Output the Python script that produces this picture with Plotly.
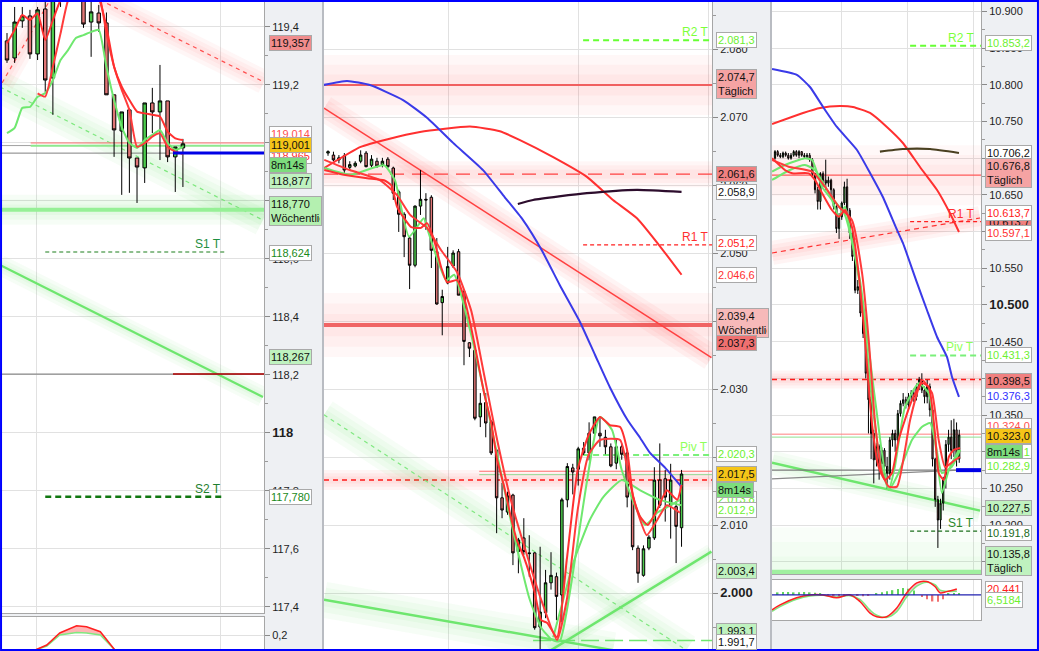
import plotly.graph_objects as go

W, H = 1039, 651
FONT = "Liberation Sans"

# ======================= DATA =======================
# ---------------- Panel 1 (119,xxx) ----------------
p1_x = list(range(24))
p1_open = [119.352, 119.293, 119.421, 119.438, 119.307, 119.462, 119.224, 119.600, 119.550, 119.620,
           119.530, 119.417, 119.448, 119.414, 119.166, 119.041, 119.114, 118.948, 118.914, 119.138,
           119.107, 119.145, 118.952, 118.983]
p1_high = [119.379, 119.469, 119.469, 119.459, 119.469, 119.520, 119.580, 119.620, 119.660, 119.650,
           119.560, 119.493, 119.476, 119.450, 119.166, 119.107, 119.120, 118.948, 119.138, 119.190,
           119.269, 119.145, 118.986, 119.014]
p1_low = [119.276, 119.276, 119.397, 119.290, 119.286, 119.176, 119.097, 119.469, 119.520, 119.500,
          119.397, 119.297, 119.383, 119.166, 118.952, 118.821, 118.828, 118.793, 118.862, 119.034,
          118.941, 118.934, 118.831, 118.848]
p1_close = [119.286, 119.417, 119.438, 119.307, 119.459, 119.217, 119.540, 119.550, 119.620, 119.530,
            119.410, 119.452, 119.414, 119.166, 119.045, 119.107, 118.948, 118.917, 119.138, 119.107,
            119.145, 118.952, 118.986, 118.997]
p1_ma_fast = [119.344, 119.390, 119.441, 119.424, 119.447, 119.355, 119.424, 119.493, 119.530, 119.550,
              119.540, 119.530, 119.500, 119.401, 119.263, 119.194, 119.148, 119.108, 119.102, 119.097,
              119.091, 119.039, 119.016, 119.010]
p1_ma_slow = [None, None, None, None, 119.171, 119.160, 119.263, 119.378, 119.493, 119.528,
              119.539, 119.539, 119.516, 119.378, 119.263, 119.183, 119.114, 118.987, 118.999, 119.022,
              119.033, 118.987, 118.970, 118.962]
p1_ma_green = [119.034, 119.052, 119.121, 119.124, 119.159, 119.172, 119.217, 119.286, 119.321, 119.362,
               119.372, 119.383, 119.390, 119.262, 119.148, 119.055, 119.000, 118.983, 119.010, 119.028,
               119.045, 119.000, 118.976, 118.986]
p1_osc_x = [3.7, 5.2, 6.9, 9.1, 10.4, 12.2, 14.1]
p1_osc_red = [0.05, 0.10, 0.22, 0.293, 0.283, 0.233, 0.05]
p1_osc_green = [0.05, 0.09, 0.20, 0.225, 0.22, 0.20, 0.05]
p1_tick_vals = [117.4, 117.6, 117.8, 118.0, 118.2, 118.4, 118.6, 118.8, 119.0, 119.2, 119.4]
p1_tick_text = ["117,4", "117,6", "117,8", "<span style='font-size:13px'><b>118</b></span>", "118,2",
                "118,4", "118,6", "118,8", "<span style='font-size:13px'><b>119</b></span>", "119,2", "119,4"]
p1_vgrid = [3.92, 27.97]
p1_weekly = 118.770
p1_s1 = 118.624
p1_s2 = 117.780
p1_piv_span = [5.0, 28.5]
p1_level_low = 118.203
p1_level_blue = 118.965
p1_level_gray = 118.991
p1_level_red = 119.000
p1_level_green = 118.990
p1_split_idx = 21.7
p1_thin_start = 3.1
p1_trend_red_a = ([-0.65, 5.62], [119.207, 119.493])
p1_trend_red_b = ([12.16, 33.6], [119.493, 119.210])
p1_trend_green_dash = ([-0.915, 33.46], [119.193, 118.734])
p1_trend_green = ([-0.915, 33.46], [118.579, 118.124])

# ---------------- Panel 2 (2.0xx) ----------------
p2_x = list(range(66))
p2_open = [2064.7, 2064.4, 2063.7, 2064.3, 2062.6, 2062.8, 2063.5, 2064.7, 2062.9, 2063.5,
           2063.0, 2063.8, 2062.5, 2059.0, 2055.7, 2052.2, 2048.2, 2056.9, 2057.9, 2058.2,
           2050.2, 2042.7, 2045.6, 2048.1, 2050.2, 2044.3, 2036.8, 2035.7, 2025.9, 2028.0,
           2025.2, 2021.0, 2014.0, 2011.9, 2014.4, 2006.1, 2008.1, 2005.9, 2005.9, 1995.0,
           1997.1, 2001.5, 2002.4, 1999.7, 2013.7, 2018.4, 2018.2, 2021.3, 2020.6, 2023.5,
           2023.5, 2022.9, 2021.5, 2019.1, 2021.5, 2020.6, 2014.0, 2006.6, 2002.6, 2006.6,
           2008.1, 2016.6, 2016.8, 2012.9, 2012.7, 2009.6]
p2_high = [2065.1, 2064.9, 2064.4, 2064.7, 2063.5, 2063.5, 2065.1, 2065.0, 2064.4, 2064.0,
           2064.0, 2064.1, 2062.7, 2059.3, 2056.0, 2052.4, 2057.0, 2062.2, 2058.8, 2058.5,
           2052.2, 2044.6, 2050.9, 2050.4, 2050.6, 2044.6, 2036.9, 2036.0, 2029.4, 2029.4,
           2025.4, 2021.2, 2016.2, 2014.9, 2014.6, 2008.1, 2011.0, 2008.5, 2006.0, 2006.8,
           2003.4, 2006.0, 2003.0, 2014.0, 2019.1, 2019.0, 2021.5, 2022.2, 2025.1, 2025.9,
           2025.9, 2024.0, 2022.0, 2022.8, 2022.0, 2021.2, 2014.4, 2007.0, 2007.0, 2008.5,
           2018.5, 2022.0, 2018.1, 2019.0, 2013.5, 2018.1]
p2_low = [2064.3, 2063.5, 2063.2, 2061.8, 2062.2, 2062.6, 2063.2, 2062.6, 2062.6, 2062.5,
          2062.6, 2062.5, 2057.8, 2053.1, 2049.4, 2044.7, 2047.9, 2055.6, 2053.4, 2047.8,
          2042.4, 2037.9, 2045.4, 2047.8, 2043.8, 2033.5, 2034.7, 2025.4, 2024.4, 2022.9,
          2020.3, 2008.8, 2011.0, 2011.5, 2004.1, 2002.9, 2005.6, 2002.4, 1994.6, 1991.6,
          1996.3, 2000.5, 1996.0, 1995.7, 2012.6, 2014.5, 2015.8, 2020.3, 2019.5, 2022.5,
          2021.5, 2020.4, 2018.5, 2018.2, 2019.6, 2012.6, 2006.3, 2001.5, 2002.4, 2006.3,
          2007.8, 2012.5, 2010.5, 2008.0, 2004.4, 2006.8]
p2_close = [2064.9, 2063.7, 2064.0, 2062.2, 2063.0, 2063.2, 2064.4, 2062.7, 2063.8, 2062.8,
            2063.5, 2062.7, 2058.8, 2055.7, 2052.4, 2048.2, 2056.9, 2057.9, 2057.8, 2050.4,
            2042.5, 2043.6, 2048.0, 2050.0, 2043.8, 2037.0, 2036.0, 2025.7, 2027.9, 2025.0,
            2020.6, 2014.0, 2012.2, 2014.3, 2005.9, 2007.8, 2006.1, 2005.8, 1994.9, 1997.2,
            2001.5, 2002.6, 1999.5, 2013.7, 2018.6, 2017.8, 2021.2, 2020.6, 2023.5, 2025.9,
            2023.1, 2021.5, 2018.7, 2021.5, 2020.4, 2014.1, 2006.8, 2002.9, 2006.5, 2008.2,
            2016.6, 2012.9, 2014.1, 2016.6, 2009.8, 2017.5]
p2_red_fast_x = [-0.7, 2.9, 7.2, 10.3, 11.6, 12.7, 14.0, 15.3, 17.1, 18.2, 19.5, 20.8, 21.9, 23.7, 25.0,
                 26.3, 27.4, 28.7, 30.0, 31.1, 32.4, 33.6, 34.7, 36.0, 37.9, 39.2, 40.3, 42.1, 43.9,
                 45.9, 47.9, 50.0, 51.8, 53.7, 55.0, 56.1, 57.4, 58.8, 60.5, 62.3, 64.2, 65.0]
p2_red_fast_y = [2062.2, 2061.5, 2061.0, 2060.7, 2060.0, 2056.8, 2055.1, 2053.8, 2053.7, 2054.4, 2051.9,
                 2047.9, 2045.7, 2046.0, 2043.5, 2039.1, 2034.7, 2029.4, 2025.0, 2019.6, 2015.6, 2011.2,
                 2007.8, 2005.3, 2000.4, 1996.0, 1995.6, 1993.5, 2004.9, 2018.1, 2023.2, 2025.9, 2024.7,
                 2024.4, 2021.0, 2014.1, 2011.2, 2010.0, 2012.2, 2015.1, 2013.7, 2015.9]
p2_red_slow_x = [-0.7, 4.0, 9.6, 12.7, 15.1, 18.2, 20.8, 23.7, 26.3, 28.7, 31.1, 33.6, 36.0, 39.2, 42.1,
                 43.9, 45.9, 47.9, 50.0, 53.7, 55.5, 56.8, 58.6, 60.5, 62.3, 64.7]
p2_red_slow_y = [2063.7, 2062.2, 2060.7, 2058.5, 2055.6, 2053.7, 2050.4, 2047.2, 2041.6, 2032.1, 2022.5,
                 2013.7, 2007.1, 1999.0, 1993.1, 1999.0, 2012.2, 2020.3, 2022.5, 2022.5, 2016.2, 2012.2,
                 2008.5, 2010.7, 2012.9, 2011.8]
p2_green_fast_x = [-0.7, 4.2, 10.3, 12.3, 14.9, 17.6, 18.2, 21.7, 23.2, 26.1, 29.8, 33.6, 37.1, 39.2, 41.2,
                   42.6, 50.0, 52.2, 54.0, 56.4, 58.3, 59.4, 60.5, 62.3, 64.7]
p2_green_fast_y = [2062.5, 2061.5, 2062.9, 2060.7, 2052.4, 2055.1, 2053.7, 2046.0, 2046.8, 2038.7, 2025.4,
                   2010.7, 1999.0, 1994.9, 1993.1, 1992.9, 2025.9, 2024.0, 2018.1, 2012.9, 2010.0, 2010.7,
                   2011.8, 2012.6, 2013.7]
p2_green_slow_x = [41.4, 42.6, 45.3, 48.1, 50.6, 54.0, 57.4, 61.0, 65.0]
p2_green_slow_y = [1993.5, 1997.1, 2004.9, 2010.7, 2014.1, 2016.6, 2015.1, 2013.7, 2012.9]
p2_blue_x = [-0.9, 3.5, 7.7, 13.8, 18.2, 23.0, 28.5, 32.5, 35.8, 39.3, 42.6, 46.3, 49.1, 51.8, 55.1,
             57.4, 59.2, 62.0, 65.0]
p2_blue_y = [2074.7, 2075.3, 2074.7, 2072.5, 2069.9, 2066.2, 2062.2, 2058.2, 2054.9, 2050.4, 2045.3,
             2039.9, 2035.0, 2030.3, 2025.4, 2022.8, 2020.6, 2018.4, 2015.6]
p2_dome_x = [-0.9, 6.0, 10.8, 16.9, 26.1, 31.6, 35.3, 41.4, 47.6, 52.4, 56.8, 61.6, 65.0]
p2_dome_y = [2062.4, 2065.6, 2066.7, 2067.8, 2068.6, 2067.9, 2066.6, 2064.1, 2061.2, 2057.8, 2055.1,
             2050.4, 2046.8]
p2_purple_x = [34.9, 37.7, 47.6, 56.8, 65.0]
p2_purple_y = [2057.2, 2057.8, 2058.8, 2059.3, 2059.0]
p2_tick_vals = [2000, 2010, 2020, 2030, 2040, 2050, 2060, 2070, 2080]
p2_tick_text = ["<span style='font-size:13px'><b>2.000</b></span>", "2.010", "2.020", "2.030", "2.040",
                "2.050", "2.060", "2.070", "2.080"]
p2_vgrid = [22.06, 46.14, 70.0]
p2_r2, p2_r1, p2_piv = 2081.3, 2051.2, 2020.3
p2_piv_start = 46.9
p2_daily = 2074.7
p2_daily_dash = 2061.6
p2_weekly = 2039.4
p2_red_dash = 2016.6
p2_thin_red = 2017.9
p2_thin_green = 2017.4
p2_thin_start = 27.8
p2_green_long = 1993.0
p2_green_long_start = 37.7
p2_trend_red = ([-0.74, 70.5], [2071.3, 2034.6])
p2_trend_green_dash = ([-0.74, 65.9], [2026.2, 1991.6])
p2_trend_green_down = ([-0.74, 52.4], [1999.0, 1991.6])
p2_trend_green_up = ([40.8, 70.5], [1991.5, 2006.1])

# ---------------- Panel 3 (10.xxx) ----------------
p3_x = list(range(70))
p3_open = [10700, 10709, 10704, 10702, 10707, 10704, 10700, 10704, 10709, 10704,
           10709, 10704, 10702, 10704, 10698, 10679, 10657, 10641, 10679, 10670,
           10666, 10670, 10657, 10634, 10604, 10620, 10639, 10661, 10629, 10598,
           10566, 10520, 10525, 10489, 10461, 10407, 10371, 10325, 10289, 10307,
           10284, 10302, 10280, 10271, 10316, 10325, 10316, 10352, 10366, 10371,
           10364, 10375, 10380, 10375, 10389, 10398, 10384, 10375, 10389, 10357,
           10290, 10235, 10207, 10230, 10262, 10310, 10320, 10302, 10330, 10290]
p3_high = [10711, 10711, 10707, 10709, 10709, 10707, 10707, 10711, 10711, 10711,
           10709, 10707, 10707, 10707, 10700, 10680, 10661, 10681, 10682, 10698,
           10675, 10672, 10659, 10636, 10625, 10641, 10668, 10672, 10632, 10600,
           10570, 10534, 10528, 10495, 10465, 10410, 10375, 10330, 10312, 10310,
           10306, 10305, 10293, 10320, 10330, 10330, 10357, 10370, 10380, 10375,
           10380, 10384, 10386, 10393, 10402, 10407, 10389, 10398, 10393, 10361,
           10292, 10240, 10236, 10266, 10316, 10330, 10343, 10345, 10340, 10330]
p3_low = [10698, 10702, 10700, 10700, 10702, 10698, 10698, 10702, 10702, 10700,
          10702, 10700, 10700, 10695, 10675, 10652, 10630, 10630, 10661, 10657,
          10661, 10650, 10630, 10598, 10590, 10616, 10636, 10625, 10590, 10560,
          10516, 10515, 10484, 10455, 10400, 10325, 10290, 10257, 10280, 10262,
          10275, 10266, 10250, 10262, 10307, 10300, 10312, 10348, 10362, 10359,
          10361, 10370, 10368, 10370, 10384, 10380, 10366, 10366, 10348, 10280,
          10225, 10169, 10195, 10220, 10250, 10300, 10290, 10293, 10280, 10285]
p3_close = [10709, 10704, 10702, 10707, 10704, 10700, 10704, 10709, 10704, 10709,
            10704, 10702, 10704, 10698, 10679, 10657, 10641, 10679, 10670, 10666,
            10670, 10657, 10634, 10604, 10620, 10639, 10661, 10629, 10598, 10566,
            10520, 10525, 10489, 10461, 10407, 10371, 10325, 10289, 10307, 10284,
            10302, 10280, 10271, 10316, 10325, 10316, 10352, 10366, 10371, 10364,
            10375, 10380, 10375, 10389, 10398, 10384, 10375, 10389, 10357, 10290,
            10235, 10207, 10230, 10262, 10310, 10320, 10302, 10330, 10290, 10323]
p3_red_fast_x = [-1.1, 3.7, 6.4, 12.6, 15.0, 17.6, 21.3, 23.9, 26.2, 28.8, 31.3, 33.7, 36.3, 38.8, 41.2,
                 43.8, 46.3, 51.3, 55.1, 57.6, 59.9, 61.3, 63.2, 65.1, 66.9, 69.3]
p3_red_fast_y = [10699.9, 10683.9, 10679.4, 10679.4, 10670.3, 10652.6, 10629.4, 10620.3, 10629.4, 10606.7,
                 10543.6, 10452.3, 10339.2, 10279.7, 10261.6, 10271.1, 10316.1, 10370.6, 10393.7, 10388.3,
                 10325.6, 10271.1, 10261.6, 10292.9, 10302.5, 10305.2]
p3_red_slow_x = [-1.1, 5.1, 13.9, 18.7, 23.9, 28.8, 32.6, 35.1, 37.5, 40.1, 42.6, 45.7, 48.7, 50.6, 55.1,
                 58.8, 61.3, 63.7, 67.4, 69.3]
p3_red_slow_y = [10697.5, 10688.4, 10681.6, 10661.2, 10633.9, 10615.8, 10543.6, 10452.3, 10339.2, 10271.1,
                 10252.5, 10252.5, 10302.5, 10343.3, 10397.8, 10380.1, 10316.1, 10279.3, 10288.8, 10292.9]
p3_green_fast_x = [-1.1, 3.7, 8.9, 11.2, 13.9, 17.6, 21.3, 23.9, 26.2, 28.8, 32.6, 36.3, 39.3, 42.6, 44.9,
                   48.7, 53.8, 57.6, 59.9, 62.5, 65.1, 68.8]
p3_green_fast_y = [10681.6, 10690.7, 10697.5, 10699.9, 10697.5, 10661.2, 10643.1, 10620.3, 10633.9, 10588.6,
                   10506.8, 10370.6, 10288.8, 10248.0, 10279.7, 10361.4, 10393.3, 10379.7, 10316.1, 10243.9,
                   10275.2, 10302.5]
p3_green_slow_x = [-1.1, 5.6, 11.2, 15.0, 20.6, 26.2, 31.8, 37.5, 42.6, 46.3, 51.3, 55.1, 58.1, 59.9, 62.5,
                   66.3, 69.3]
p3_green_slow_y = [10670.3, 10683.9, 10690.7, 10683.9, 10649.9, 10622.6, 10534.1, 10370.6, 10248.0, 10271.1,
                   10316.1, 10334.2, 10339.2, 10316.1, 10271.1, 10279.7, 10302.5]
p3_blue_x = [-1.1, 8.2, 13.1, 18.0, 23.2, 30.7, 35.6, 40.4, 45.7, 47.9, 53.2, 56.9, 60.7, 64.4, 66.3, 68.9]
p3_blue_y = [10821.5, 10813.4, 10797.0, 10769.8, 10742.5, 10711.2, 10679.8, 10647.1, 10602.2, 10584.5,
             10530.0, 10493.2, 10456.4, 10429.2, 10401.9, 10374.7]
p3_dome_x = [-1.1, 10.5, 16.9, 24.3, 29.2, 35.6, 41.9, 47.9, 54.3, 60.7, 65.5, 68.9]
p3_dome_y = [10746.6, 10761.6, 10768.4, 10771.1, 10769.8, 10761.6, 10742.5, 10720.7, 10688.0, 10656.7,
             10625.3, 10599.5]
p3_olive_x = [39.3, 47.9, 58.1, 68.9]
p3_olive_y = [10708.9, 10712.5, 10712.5, 10707.1]
p3_macd_x = [-1.1, 1.9, 8.1, 13.1, 18.0, 23.1, 28.1, 31.8, 35.6, 38.1, 41.8, 45.6, 49.3, 53.1, 56.8, 59.9,
             61.8, 64.3, 68.1]
p3_macd_red = [-41, -27.5, -8, 0, 0, -8, 0, -18, -50, -60, -60, -36, 5.5, 33, 36.6, 23, 5.5, 9, 16.5]
p3_macd_green = [-45, -32, -12, -3, -1, -6, -2, -12, -42, -56, -62, -46, -6, 24, 35, 28, 13, 10, 10]
p3_hist_x = [1, 3, 5, 7, 9, 11, 13, 15, 17, 20, 22, 24, 26, 28, 31, 33, 35, 38, 40, 42, 44, 46, 48, 50, 52,
             55, 57, 59, 61, 63, 65, 67, 69]
p3_hist_v = [7, 8, 8, 7, 7, 8, 7, 6, 5, -3, -4, -5, -4, -3, -2, -4, -2, 4, 7, 10, 13, 16, 19, 17, 12,
             -6, -12, -18, -19, -12, 3, 4, 5]
p3_tick_vals = list(range(10150, 10901, 50))
p3_tick_text = ["10.150", "10.200", "10.250", "10.300", "10.350", "10.400", "10.450",
                "<span style='font-size:13px'><b>10.500</b></span>", "10.550", "10.600", "10.650", "10.700",
                "10.750", "10.800", "10.850", "10.900"]
p3_vgrid = [25.0, 49.7, 74.2]
p3_r2, p3_r1, p3_piv, p3_s1 = 10853.2, 10613.7, 10431.3, 10191.8
p3_piv_start = 50.6
p3_daily = 10676.8
p3_red_dash = 10398.5
p3_thin_red = 10324.0
p3_thin_green = 10320.0
p3_gray = 10275.0
p3_blue_start = 67.8
p3_daily_green = 10135.8
p3_trend_red = ([-1.12, 76.8], [10570.8, 10618.5])
p3_trend_green = ([-1.12, 76.8], [10285.1, 10219.8])
p3_trend_gray = ([-1.12, 68.7], [10263.0, 10275.0])

# ======================= LAYOUT CONFIG =======================
P1_XR = [-0.915, 33.6]
P1_YR = [117.379, 119.493]
P2_XR = [-0.74, 70.6]
P2_YR = [1991.47, 2087.21]
P3_XR = [-1.12, 77.15]
P3_YR = [10133.5, 10915.5]

AX = {"p1": ("x", "y"), "p1s": ("x2", "y2"), "p2": ("x3", "y3"),
      "p3": ("x4", "y4"), "p3m": ("x5", "y5"), "p3b": ("x6", "y6")}
RED_G = "255,70,70"
GRN_G = "80,225,80"

fig = go.Figure()
shapes = []
annotations = []


def seg(ax, xs, ys, color, width=1.5, dash=None, glow=None, half=12, alpha=0.05, layer="between"):
    xr, yr = AX[ax]
    if glow:
        for w in (2 * half, 1.35 * half, 0.7 * half):
            shapes.append(dict(type="line", xref=xr, yref=yr, x0=xs[0], y0=ys[0], x1=xs[1], y1=ys[1],
                               layer=layer, line=dict(color=f"rgba({glow},{alpha})", width=w)))
    shapes.append(dict(type="line", xref=xr, yref=yr, x0=xs[0], y0=ys[0], x1=xs[1], y1=ys[1],
                       layer=layer, line=dict(color=color, width=width, dash=dash)))


def hline(ax, level, span, color, width=1.5, dash=None, glow=None, half=12, alpha=0.05, layer="between"):
    seg(ax, span, [level, level], color, width, dash, glow, half, alpha, layer)


def ma(ax, xs, ys, color, width=2):
    xr, yr = AX[ax]
    fig.add_trace(go.Scatter(x=xs, y=ys, xaxis=xr, yaxis=yr, mode="lines",
                             line=dict(color=color, width=width, shape="spline", smoothing=0.5),
                             hoverinfo="skip", showlegend=False))


def candles(ax, x, o, h, l, c):
    xr, yr = AX[ax]
    fig.add_trace(go.Candlestick(x=x, open=o, high=h, low=l, close=c, xaxis=xr, yaxis=yr,
                                 increasing=dict(line=dict(color="#000000", width=1), fillcolor="#4ccb4c"),
                                 decreasing=dict(line=dict(color="#000000", width=1), fillcolor="#e07676"),
                                 whiskerwidth=0, showlegend=False, hoverinfo="skip"))


# ---------- Panel 1 lines ----------
seg("p1", *p1_trend_red_a, "#ff5050", 1.2, "4px,4px", RED_G, 12)
seg("p1", *p1_trend_red_b, "#ff5050", 1.2, "4px,4px", RED_G, 12)
seg("p1", *p1_trend_green_dash, "#7ee87e", 1.2, "4px,4px", GRN_G, 16)
seg("p1", *p1_trend_green, "#6ee66e", 2.2, None, GRN_G, 10)
hline("p1", p1_weekly, P1_XR, "#96f096", 4, None, GRN_G, 15)
hline("p1", p1_s1, p1_piv_span, "#1d7f1d", 1.2, "4px,3px")
hline("p1", p1_s2, p1_piv_span, "#117711", 2.5, "6px,4px")
hline("p1", p1_level_low, P1_XR, "#8a8a8a", 1.2)
hline("p1", p1_level_low, [p1_split_idx, P1_XR[1]], "#b00000", 1.5)
hline("p1", p1_level_gray, P1_XR, "#a0a0a0", 1)
hline("p1", p1_level_blue, P1_XR, "#808080", 1)
hline("p1", p1_level_red, [p1_thin_start, P1_XR[1]], "#ff7070", 1)
hline("p1", p1_level_green, [p1_thin_start, P1_XR[1]], "#8ee88e", 2)
hline("p1", p1_level_blue, [p1_split_idx, P1_XR[1]], "#0000e6", 3, layer="above")

# ---------- Panel 2 lines ----------
hline("p2", p2_daily, P2_XR, "#f06060", 2, None, RED_G, 30, 0.045)
hline("p2", p2_daily_dash, P2_XR, "#ff4040", 1.2, "14px,8px", RED_G, 13, 0.05)
hline("p2", p2_weekly, P2_XR, "#f06464", 4, None, RED_G, 32, 0.045)
hline("p2", p2_red_dash, P2_XR, "#ff1a1a", 1.5, "5px,4px", RED_G, 10, 0.06)
seg("p2", *p2_trend_red, "#ff4040", 1.5, None, RED_G, 13, 0.06)
seg("p2", *p2_trend_green_dash, "#80e880", 1.2, "4px,4px", GRN_G, 16)
seg("p2", *p2_trend_green_down, "#6ee66e", 2.5, None, GRN_G, 18)
seg("p2", *p2_trend_green_up, "#6ee66e", 2.5, None, GRN_G, 8)
hline("p2", p2_r2, [p2_piv_start, P2_XR[1]], "#66ff33", 2, "6px,4px")
hline("p2", p2_r1, [p2_piv_start, P2_XR[1]], "#ff2020", 1.2, "4px,3px")
hline("p2", p2_piv, [p2_piv_start, P2_XR[1]], "#7af07a", 2, "6px,4px")
hline("p2", p2_thin_red, [p2_thin_start, P2_XR[1]], "#ff7070", 1)
hline("p2", p2_thin_green, [p2_thin_start, P2_XR[1]], "#90d890", 1)
hline("p2", p2_green_long, [p2_green_long_start, P2_XR[1]], "#6ee66e", 1.5, "18px,6px")

# ---------- Panel 3 lines ----------
hline("p3", p3_daily, P3_XR, "#ff5a5a", 1.2, None, RED_G, 30, 0.04)
hline("p3", p3_red_dash, P3_XR, "#ff1a1a", 1.5, "5px,4px", RED_G, 9, 0.06)
seg("p3", *p3_trend_red, "#ff3030", 1.2, "5px,4px", RED_G, 12, 0.06)
seg("p3", *p3_trend_green, "#6ee66e", 2.5, None, GRN_G, 12)
hline("p3", p3_daily_green, P3_XR, "#a0f0a0", 5, None, GRN_G, 45, 0.035)
hline("p3", p3_r2, [p3_piv_start, P3_XR[1]], "#66ff33", 2, "6px,4px")
hline("p3", p3_r1, [p3_piv_start, P3_XR[1]], "#ff2020", 1.2, "4px,3px")
hline("p3", p3_piv, [p3_piv_start, P3_XR[1]], "#7af07a", 2, "6px,4px")
hline("p3", p3_s1, [p3_piv_start, P3_XR[1]], "#1d6f1d", 1.2, "4px,3px")
hline("p3", p3_thin_red, P3_XR, "#ff8080", 1)
hline("p3", p3_thin_green, P3_XR, "#90e090", 1)
hline("p3", p3_gray, P3_XR, "#7a7a7a", 1.3)
seg("p3", *p3_trend_gray, "#8a8a8a", 1.2)
hline("p3", p3_gray, [p3_blue_start, P3_XR[1]], "#0000e6", 4, layer="above")

# ---------- Candles ----------
candles("p1", p1_x, p1_open, p1_high, p1_low, p1_close)
candles("p2", p2_x, p2_open, p2_high, p2_low, p2_close)
candles("p3", p3_x, p3_open, p3_high, p3_low, p3_close)

# ---------- Moving averages ----------
ma("p1", p1_x, p1_ma_green, "#6fe86f")
ma("p1", p1_x, p1_ma_slow, "#ff3b3b")
ma("p1", p1_x, p1_ma_fast, "#ff3030")

ma("p2", p2_dome_x, p2_dome_y, "#ff3030", 2)
ma("p2", p2_blue_x, p2_blue_y, "#3a3ae8", 2)
ma("p2", p2_purple_x, p2_purple_y, "#2d0d2d", 2.2)
ma("p2", p2_green_slow_x, p2_green_slow_y, "#6fe86f")
ma("p2", p2_green_fast_x, p2_green_fast_y, "#6fe86f")
ma("p2", p2_red_slow_x, p2_red_slow_y, "#ff3b3b")
ma("p2", p2_red_fast_x, p2_red_fast_y, "#ff3030")

ma("p3", p3_dome_x, p3_dome_y, "#ff3030", 2)
ma("p3", p3_blue_x, p3_blue_y, "#3a3ae8", 2)
ma("p3", p3_olive_x, p3_olive_y, "#4a4020", 2.2)
ma("p3", p3_green_slow_x, p3_green_slow_y, "#6fe86f")
ma("p3", p3_green_fast_x, p3_green_fast_y, "#6fe86f")
ma("p3", p3_red_slow_x, p3_red_slow_y, "#ff3b3b")
ma("p3", p3_red_fast_x, p3_red_fast_y, "#ff3030")

# ---------- Panel 1 oscillator ----------
fig.add_trace(go.Scatter(x=p1_osc_x, y=p1_osc_green, xaxis="x2", yaxis="y2", mode="lines",
                         line=dict(color="#80e880", width=1.5), hoverinfo="skip", showlegend=False))
fig.add_trace(go.Scatter(x=p1_osc_x, y=p1_osc_red, xaxis="x2", yaxis="y2", mode="lines", fill="tonexty",
                         fillcolor="rgba(255,120,120,0.55)", line=dict(color="#ff2020", width=1.5),
                         hoverinfo="skip", showlegend=False))

# ---------- Panel 3 MACD ----------
fig.add_trace(go.Bar(x=p3_hist_x, y=p3_hist_v, xaxis="x5", yaxis="y5", width=0.6,
                     marker=dict(color=["#5fd35f" if v > 0 else "#f07070" for v in p3_hist_v], line=dict(width=0)),
                     hoverinfo="skip", showlegend=False))
hline("p3m", 0, P3_XR, "#2020b0", 1.2, layer="above")
fig.add_trace(go.Scatter(x=p3_macd_x, y=p3_macd_green, xaxis="x5", yaxis="y5", mode="lines",
                         line=dict(color="#80e880", width=1.5, shape="spline"), hoverinfo="skip", showlegend=False))
fig.add_trace(go.Scatter(x=p3_macd_x, y=p3_macd_red, xaxis="x5", yaxis="y5", mode="lines", fill="tonexty",
                         fillcolor="rgba(240,120,160,0.5)", line=dict(color="#ff2020", width=1.5, shape="spline"),
                         hoverinfo="skip", showlegend=False))

# ---------- price boxes on axis strips ----------
WH, BLK = "#ffffff", "#111111"
LGREEN_T = "#6cf030"
labels = [
    (269, 43, "119,357", "#f08c8c", BLK, None),
    (269, 134, "119,014", WH, "#ff5050", None),
    (269, 156, "118,965", WH, "#ff3030", None),
    (269, 145, "119,001", "#f5c518", BLK, None),
    (269, 165, "8m14s", "#7ddc7d", BLK, None),
    (269, 181, "118,877", "#bff2bf", BLK, None),
    (269, 211, "118,770<br>Wöchentlich", "#b4f0b0", BLK, 49),
    (269, 253, "118,624", WH, "#1a8a1a", None),
    (269, 357, "118,267", "#bff2bf", BLK, None),
    (269, 497, "117,780", WH, "#1a8a1a", None),
    (716, 40, "2.081,3", WH, LGREEN_T, None),
    (716, 84, "2.074,7<br>Täglich", "#f5a3a3", BLK, None),
    (716, 174, "2.061,6", "#f08080", BLK, None),
    (716, 192, "2.058,9", WH, BLK, None),
    (716, 243, "2.051,2", WH, "#ff2020", None),
    (716, 275, "2.046,6", WH, "#ff3030", None),
    (716, 323, "2.039,4<br>Wöchentlich", "#f7b9b9", BLK, 49),
    (716, 343, "2.037,3", "#ef7070", BLK, None),
    (716, 454, "2.020,3", WH, LGREEN_T, None),
    (716, 499, "2.013,8", WH, LGREEN_T, None),
    (716, 474, "2.017,5", "#f5c518", BLK, None),
    (716, 490, "8m14s", "#7ddc7d", BLK, None),
    (716, 510, "2.012,9", WH, LGREEN_T, None),
    (716, 571, "2.003,4", "#bff2bf", BLK, None),
    (716, 631, "1.993,1", "#bff2bf", BLK, None),
    (716, 642, "1.991,7", WH, BLK, None),
    (985, 43, "10.853,2", WH, LGREEN_T, None),
    (985, 153, "10.706,2", WH, BLK, None),
    (985, 173, "10.676,8<br>Täglich", "#f5a3a3", BLK, None),
    (985, 222, "10.613,7", "#f08080", BLK, None),
    (985, 213, "10.613,7", WH, "#ff2020", None),
    (985, 233, "10.597,1", WH, "#ff3030", None),
    (985, 355, "10.431,3", WH, LGREEN_T, None),
    (985, 381, "10.398,5", "#f08080", BLK, None),
    (985, 396, "10.376,3", WH, "#3030ff", None),
    (985, 426, "10.324,0", WH, "#ff5050", None),
    (985, 436, "10.323,0", "#f5c518", BLK, None),
    (985, 452, "10.262,1", WH, LGREEN_T, None),
    (985, 452, "8m14s", "#7ddc7d", BLK, None),
    (985, 466, "10.282,9", WH, LGREEN_T, None),
    (985, 508, "10.227,5", "#bff2bf", BLK, None),
    (985, 533, "10.191,8", WH, "#1a6a1a", None),
    (985, 561, "10.135,8<br>Täglich", "#bff2bf", BLK, None),
    (985, 589, "20,441", WH, "#ff2020", None),
    (985, 600, "6,5184", WH, LGREEN_T, None),
]
for px, py, txt, bg, fg, wd in labels:
    a = dict(xref="paper", yref="paper", x=px / W, y=1 - py / H, xanchor="left", yanchor="middle",
             text=txt, showarrow=False, bgcolor=bg, bordercolor="#a9a9a9", borderwidth=1, borderpad=1,
             align="left", font=dict(family=FONT, size=11, color=fg))
    if wd:
        a["width"] = wd
    annotations.append(a)

# ---------- pivot tags inside plots ----------
tags = [
    ("p1", p1_piv_span[1] - 0.3, p1_s1, "S1 T", "#1f8f3f", 0),
    ("p1", p1_piv_span[1] - 0.3, p1_s2, "S2 T", "#1f7f2f", 0),
    ("p2", P2_XR[1], p2_r2, "R2 T", "#7dff3a", -2),
    ("p2", P2_XR[1], p2_r1, "R1 T", "#ff3030", -2),
    ("p2", P2_XR[1], p2_piv, "Piv T", "#8fff5a", -2),
    ("p3", P3_XR[1], p3_r2, "R2 T", "#7dff3a", -5),
    ("p3", P3_XR[1], p3_r1, "R1 T", "#ff3030", -5),
    ("p3", P3_XR[1], p3_piv, "Piv T", "#8fff5a", -5),
    ("p3", P3_XR[1], p3_s1, "S1 T", "#2a8a2a", -5),
]
for ax, x, y, txt, col, xs in tags:
    xr, yr = AX[ax]
    annotations.append(dict(xref=xr, yref=yr, x=x, y=y, xanchor="right", yanchor="bottom", text=txt,
                            showarrow=False, xshift=xs, yshift=-1, font=dict(family=FONT, size=12, color=col)))

# ---------- frame decorations ----------
shapes += [
    dict(type="line", xref="paper", yref="paper", x0=323 / W, x1=323 / W, y0=0, y1=1,
         line=dict(color="#b9bcc2", width=2), layer="above"),
    dict(type="line", xref="paper", yref="paper", x0=771 / W, x1=771 / W, y0=0, y1=1,
         line=dict(color="#b9bcc2", width=2), layer="above"),
    dict(type="rect", xref="paper", yref="paper", x0=0.001, x1=0.999, y0=0.0015, y1=0.9985,
         line=dict(color="#0000ff", width=2), layer="above"),
]

# ---------- axes ----------
GRID = "#e1e1e1"
TICKF = dict(family=FONT, size=11, color="#1e1e1e")


def xax(dom, rng, grid, anchor, line=False, mirror=False, slider=False):
    d = dict(domain=dom, range=rng, anchor=anchor, tickmode="array", tickvals=grid, showticklabels=False,
             ticks="", showgrid=True, gridcolor=GRID, zeroline=False, fixedrange=True,
             showline=line, linecolor="#a6a6a6", linewidth=1, mirror=mirror)
    if slider:
        d["rangeslider"] = dict(visible=False)
    return d


def yax(dom, rng, vals, text, anchor, dminor=None, mirror=False, grid=True):
    d = dict(domain=dom, range=rng, anchor=anchor, side="right", tickmode="array", tickvals=vals,
             ticktext=text, showgrid=grid, gridcolor=GRID, zeroline=False, fixedrange=True,
             showline=True, linecolor="#a6a6a6", linewidth=1, mirror=mirror, ticks="outside",
             ticklen=5, tickcolor="#8a8a8a", tickfont=TICKF)
    if dminor:
        d["minor"] = dict(dtick=dminor, tick0=0, ticks="outside", ticklen=3, tickcolor="#9a9a9a", showgrid=False)
    return d


P1D = [0, 264 / W]
P2D = [324 / W, 712 / W]
P3D = [772 / W, 981 / W]

fig.update_layout(
    width=W, height=H, autosize=False, margin=dict(l=0, r=0, t=0, b=0),
    paper_bgcolor="#eef0f3", plot_bgcolor="#ffffff",
    font=dict(family=FONT, size=11, color="#1e1e1e"),
    showlegend=False, hovermode=False, dragmode=False, boxgap=0.35, bargap=0.3,
    xaxis=xax(P1D, P1_XR, p1_vgrid, "y", line=True, slider=True),
    yaxis=yax([1 - 613 / H, 1], P1_YR, p1_tick_vals, p1_tick_text, "x", 0.1),
    xaxis2=xax(P1D, P1_XR, p1_vgrid, "y2", line=True, mirror=True),
    yaxis2=yax([0, 1 - 617 / H], [0.04, 0.38], [0.2], ["0,2"], "x2", mirror=True),
    xaxis3=xax(P2D, P2_XR, p2_vgrid, "y3", slider=True),
    yaxis3=yax([0, 1], P2_YR, p2_tick_vals, p2_tick_text, "x3", 5),
    xaxis4=xax(P3D, P3_XR, p3_vgrid, "y4", line=True, slider=True),
    yaxis4=yax([1 - 574 / H, 1], P3_YR, p3_tick_vals, p3_tick_text, "x4", 25),
    xaxis5=xax(P3D, P3_XR, p3_vgrid, "y5", line=True, mirror=True),
    yaxis5=yax([1 - 620 / H, 1 - 580 / H], [-69, 41], [], [], "x5", mirror=True, grid=False),
    xaxis6=xax(P3D, P3_XR, p3_vgrid, "y6", line=True, mirror=True),
    yaxis6=yax([0, 1 - 624 / H], [56, 110], [100], ["<span style='font-size:13px'><b>100</b></span>"], "x6",
               mirror=True),
    shapes=shapes,
    annotations=annotations,
)

fig.write_html("out.html", config={"displayModeBar": False},
               post_script="document.body.style.margin='0px';document.body.style.overflow='hidden';")
